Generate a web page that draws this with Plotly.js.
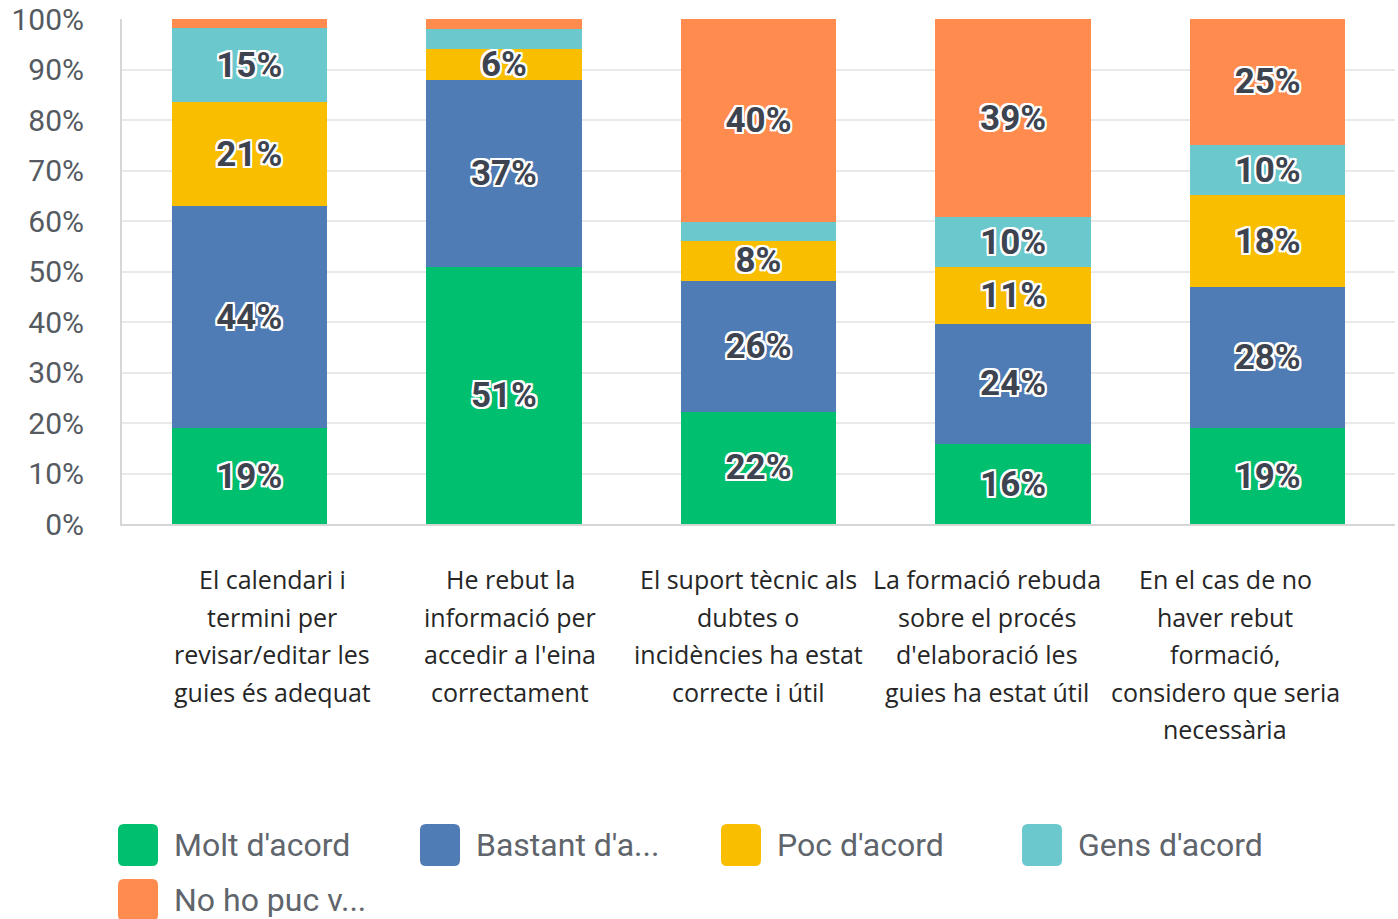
<!DOCTYPE html>
<html>
<head>
<meta charset="utf-8">
<script src="https://cdn.plot.ly/plotly-3.0.1.min.js"></script>
<style>
  html, body { margin: 0; padding: 0; background: #ffffff; }
  #chart { width: 1398px; height: 919px; }
</style>
</head>
<body>
<div id="chart"></div>
<script>
// ---- data ----
const categories = [
  "El calendari i<br>termini per<br>revisar/editar les<br>guies és adequat",
  "He rebut la<br>informació per<br>accedir a l'eina<br>correctament",
  "El suport tècnic als<br>dubtes o<br>incidències ha estat<br>correcte i útil",
  "La formació rebuda<br>sobre el procés<br>d'elaboració les<br>guies ha estat útil",
  "En el cas de no<br>haver rebut<br>formació,<br>considero que seria<br>necessària"
];
const seriesNames = ["Molt d'acord", "Bastant d'a...", "Poc d'acord", "Gens d'acord", "No ho puc v..."];
const moltDacord    = [19.0, 50.8, 22.2, 15.8, 19.0];
const bastantDacord = [43.9, 37.2, 25.9, 23.9, 27.9];
const pocDacord     = [20.6,  6.1,  8.0, 11.2, 18.2];
const gensDacord    = [14.7,  4.0,  3.7,  9.8, 10.0];
const noHoPuc       = [ 1.8,  1.9, 40.2, 39.3, 24.9];
const yTickVals  = [0, 10, 20, 30, 40, 50, 60, 70, 80, 90, 100];
const yTickText  = ["0%", "10%", "20%", "30%", "40%", "50%", "60%", "70%", "80%", "90%", "100%"];

// ---- styles ----
const seriesColors = ["#00BF6F", "#507CB6", "#F9BE00", "#6BC8CD", "#FF8B4F"];
const allSeries = [moltDacord, bastantDacord, pocDacord, gensDacord, noHoPuc];

const W = 1398, H = 919;
const M = { l: 122, r: 3, t: 19, b: 395 };
const plotW = W - M.l - M.r, plotH = H - M.t - M.b;
const px2x = px => (px - M.l) / plotW;
const py2y = py => (H - M.b - py) / plotH;

const outline = "-2px -2px 0 #fff, 2px -2px 0 #fff, -2px 2px 0 #fff, 2px 2px 0 #fff, 0 -2px 0 #fff, 0 2px 0 #fff, -2px 0 0 #fff, 2px 0 0 #fff";

const traces = allSeries.map((vals, i) => ({
  type: "bar",
  name: seriesNames[i],
  x: categories,
  y: vals,
  marker: { color: seriesColors[i], line: { width: 0 } },
  text: vals.map(v => v >= 5 ? Math.round(v) + "%" : ""),
  textposition: "inside",
  insidetextanchor: "middle",
  textangle: 0,
  constraintext: "none",
  textfont: { family: "Roboto, sans-serif", size: 35, color: "#3d4450", weight: "bold", shadow: outline },
  hoverinfo: "skip",
  showlegend: false
}));

const annotations = [];
// category labels (one annotation per line for line spacing control)
const labelCenters = [272, 510, 748, 987, 1225];
categories.forEach((c, i) => {
  c.split("<br>").forEach((line, k) => {
    annotations.push({
      xref: "paper", yref: "paper",
      x: px2x(labelCenters[i]), y: py2y(579 + 37.5 * k),
      xanchor: "center", yanchor: "middle",
      text: line, showarrow: false,
      font: { family: "Open Sans, sans-serif", size: 25, color: "#262626" }
    });
  });
});

// custom legend
const shapes = [];
const legendPos = [[118, 845], [420, 845], [721, 845], [1022, 845], [118, 900]];
seriesNames.forEach((n, i) => {
  const [lx, ly] = legendPos[i];
  const x0 = px2x(lx), x1 = px2x(lx + 40);
  const y0 = py2y(ly + 21), y1 = py2y(ly - 21);
  const rx = 6 / plotW, ry = 6 / plotH;
  const path = `M ${x0 + rx} ${y0} L ${x1 - rx} ${y0} Q ${x1} ${y0} ${x1} ${y0 + ry} L ${x1} ${y1 - ry} Q ${x1} ${y1} ${x1 - rx} ${y1} L ${x0 + rx} ${y1} Q ${x0} ${y1} ${x0} ${y1 - ry} L ${x0} ${y0 + ry} Q ${x0} ${y0} ${x0 + rx} ${y0} Z`;
  shapes.push({ type: "path", xref: "paper", yref: "paper", path: path,
    fillcolor: seriesColors[i], line: { width: 0 }, layer: "above" });
  annotations.push({
    xref: "paper", yref: "paper",
    x: px2x(lx + 54), y: py2y(ly),
    xanchor: "left", yanchor: "middle",
    text: n, showarrow: false,
    font: { family: "Roboto, sans-serif", size: 32, color: "#60656c" }
  });
});

const layout = {
  width: W, height: H,
  margin: M,
  paper_bgcolor: "#ffffff",
  plot_bgcolor: "#ffffff",
  barmode: "stack",
  bargap: 0.39,
  showlegend: false,
  xaxis: {
    type: "category",
    range: [-0.5, 4.5],
    showticklabels: false,
    showgrid: false,
    zeroline: false,
    showline: true, linecolor: "#d6d6d6", linewidth: 2,
    ticks: ""
  },
  yaxis: {
    range: [0, 100],
    tickvals: yTickVals,
    ticktext: yTickText,
    showgrid: true, gridcolor: "#e9e9e9", gridwidth: 2,
    zeroline: false,
    showline: true, linecolor: "#d6d6d6", linewidth: 2,
    ticks: "",
    ticklabelstandoff: 30,
    tickfont: { family: "Roboto, sans-serif", size: 30, color: "#555a61" }
  },
  annotations: annotations,
  shapes: shapes
};

Plotly.newPlot("chart", traces, layout, { displayModeBar: false, staticPlot: true });
</script>
</body>
</html>
